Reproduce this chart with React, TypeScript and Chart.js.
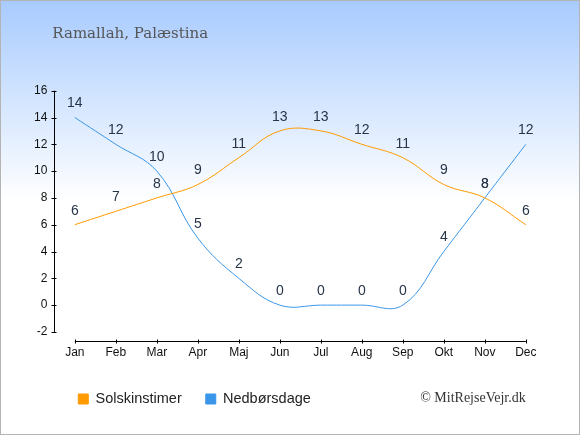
import React, { useEffect, useRef } from "react";
import { Chart, registerables } from "chart.js";

Chart.register(...registerables);

const months = ["Jan", "Feb", "Mar", "Apr", "Maj", "Jun", "Jul", "Aug", "Sep", "Okt", "Nov", "Dec"];
const sunHours = [6, 7, 8, 9, 11, 13, 13, 12, 11, 9, 8, 6];
const rainDays = [14, 12, 10, 5, 2, 0, 0, 0, 0, 4, 8, 12];
const yTicks = [-2, 0, 2, 4, 6, 8, 10, 12, 14, 16];

const ORANGE = "#ff9a00";
const BLUE = "#3a96e8";

// axis lines, tick marks, point values, title and copyright
const decorPlugin = {
  id: "decor",
  afterDatasetsDraw(chart: any) {
    const { ctx, chartArea, scales } = chart;
    const x = scales.x;
    const y = scales.y;
    ctx.save();

    // value labels above each point
    ctx.font = "14px 'Liberation Sans', Arial, sans-serif";
    ctx.fillStyle = "#283548";
    ctx.textAlign = "center";
    ctx.textBaseline = "middle";
    chart.data.datasets.forEach((ds: any, i: number) => {
      const meta = chart.getDatasetMeta(i);
      meta.data.forEach((pt: any, j: number) => {
        ctx.fillText(String(ds.data[j]), pt.x, pt.y - 14);
      });
    });

    ctx.strokeStyle = "#000";
    ctx.lineWidth = 1;

    // y axis
    const ax = Math.round(chartArea.left) + 0.5;
    ctx.beginPath();
    ctx.moveTo(ax, y.getPixelForValue(yTicks[0]));
    ctx.lineTo(ax, y.getPixelForValue(yTicks[yTicks.length - 1]));
    yTicks.forEach((t) => {
      const py = Math.round(y.getPixelForValue(t)) + 0.5;
      ctx.moveTo(ax - 3, py);
      ctx.lineTo(ax + 2, py);
    });
    ctx.stroke();

    // x axis
    const ay = Math.round(chartArea.bottom) + 0.5;
    ctx.beginPath();
    ctx.moveTo(x.getPixelForValue(0), ay);
    ctx.lineTo(x.getPixelForValue(months.length - 1), ay);
    months.forEach((_, i) => {
      const px = Math.round(x.getPixelForValue(i)) + 0.5;
      ctx.moveTo(px, ay - 2);
      ctx.lineTo(px, ay + 2);
    });
    ctx.stroke();

    // title
    ctx.textAlign = "left";
    ctx.textBaseline = "alphabetic";
    ctx.fillStyle = "#555";
    ctx.font = "15px 'DejaVu Serif', Georgia, serif";
    ctx.fillText("Ramallah, Palæstina", 51.3, 37);

    // copyright
    ctx.textAlign = "right";
    ctx.fillStyle = "#333";
    ctx.font = "14px 'Liberation Serif', 'Times New Roman', serif";
    ctx.fillText("© MitRejseVejr.dk", 524.7, 400.7);

    ctx.restore();
  },
};

const App: React.FC = () => {
  const canvasRef = useRef<HTMLCanvasElement>(null);
  const chartRef = useRef<Chart | null>(null);

  useEffect(() => {
    if (!canvasRef.current) return;
    if (chartRef.current) chartRef.current.destroy();

    chartRef.current = new Chart(canvasRef.current, {
      type: "line",
      data: {
        labels: months,
        datasets: [
          {
            label: "Solskinstimer",
            data: sunHours,
            borderColor: ORANGE,
            backgroundColor: ORANGE,
            borderWidth: 1,
            pointRadius: 0,
            tension: 0.4,
          },
          {
            label: "Nedbørsdage",
            data: rainDays,
            borderColor: BLUE,
            backgroundColor: BLUE,
            borderWidth: 1,
            pointRadius: 0,
            tension: 0.4,
          },
        ],
      },
      options: {
        animation: false,
        responsive: false,
        events: [],
        layout: {
          padding: { left: 23.3, right: 32.7, top: 89.7, bottom: 17.75 },
        },
        scales: {
          x: {
            offset: true,
            grid: { display: false, drawTicks: false },
            border: { display: false },
            ticks: {
              padding: 4,
              color: "#111",
              font: { family: "'Liberation Sans', Arial, sans-serif", size: 12 },
            },
            afterFit: (scale: any) => {
              scale.height = 26.45;
            },
          },
          y: {
            min: -2.7,
            max: 16,
            grid: { display: false, drawTicks: false },
            border: { display: false },
            ticks: {
              padding: 7,
              color: "#111",
              font: { family: "'Liberation Sans', Arial, sans-serif", size: 12 },
            },
            afterBuildTicks: (scale: any) => {
              scale.ticks = yTicks.map((v) => ({ value: v }));
            },
            afterFit: (scale: any) => {
              scale.width = 30;
            },
          },
        },
        plugins: {
          title: { display: false },
          tooltip: { enabled: false },
          legend: {
            position: "bottom",
            align: "start",
            fullSize: false,
            labels: {
              boxWidth: 10,
              boxHeight: 10,
              padding: 24,
              color: "#222",
              font: { family: "'Liberation Sans', Arial, sans-serif", size: 14.5 },
            },
          },
        },
      },
      plugins: [decorPlugin],
    });

    return () => {
      if (chartRef.current) {
        chartRef.current.destroy();
        chartRef.current = null;
      }
    };
  }, []);

  return (
    <div
      style={{
        position: "absolute",
        left: 0,
        top: 0,
        width: 580,
        height: 435,
        boxSizing: "border-box",
        border: "1px solid #b4b4b4",
        background: "linear-gradient(to bottom, #a8cbff 0px, #ffffff 200px, #ffffff 100%)",
      }}
    >
      <canvas ref={canvasRef} width={578} height={433} style={{ display: "block" }} />
    </div>
  );
};

export default App;
